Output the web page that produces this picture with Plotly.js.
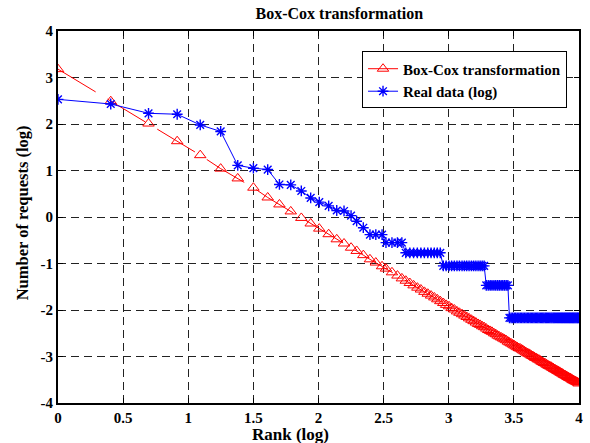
<!DOCTYPE html>
<html>
<head>
<meta charset="utf-8">
<script src="https://cdn.plot.ly/plotly-3.0.1.min.js"></script>
<style>html,body{margin:0;padding:0;background:#fff;}#chart{width:590px;height:443px;}</style>
</head>
<body>
<div id="chart"></div>
<script>
// log10(rank) sample positions
var rankLog = [0,0.405,0.695,0.915,1.092,1.249,1.38,1.50,1.61,1.70,
1.787,1.868,1.94,2.006,2.078,2.14,2.196,2.25,2.293,2.344,
2.395,2.44,2.488,2.518,2.564,2.606,2.64,2.670,2.701,2.730,
2.759,2.786,2.813,2.839,2.864,2.889,2.912,2.935,2.958,2.980,
3.002,3.022,3.043,3.063,3.082,3.102,3.120,3.138,3.156,3.174,
3.191,3.208,3.225,3.241,3.257,3.272,3.288,3.303,3.318,3.332,
3.347,3.361,3.375,3.388,3.402,3.415,3.428,3.441,3.454,3.466,
3.479,3.491,3.503,3.514,3.526,3.538,3.549,3.560,3.571,3.582,
3.593,3.604,3.614,3.625,3.635,3.645,3.655,3.665,3.675,3.684,
3.694,3.704,3.713,3.722,3.731,3.741,3.750,3.758,3.767,3.776,
3.785,3.793,3.802,3.810,3.818,3.827,3.835,3.843,3.851,3.859,
3.867,3.874,3.882,3.890,3.897,3.905,3.912,3.920,3.927,3.934,
3.942,3.949,3.956,3.963,3.970,3.977,3.984,3.990,3.997];

// Box-Cox transformation (log)
var boxCox = [3.18,2.49,2.01,1.63,1.33,1.04,0.83,0.63,0.42,0.27,
0.12,-0.02,-0.14,-0.25,-0.37,-0.48,-0.57,-0.66,-0.73,-0.82,
-0.91,-0.98,-1.06,-1.11,-1.19,-1.26,-1.32,-1.37,-1.42,-1.47,
-1.52,-1.56,-1.61,-1.65,-1.69,-1.73,-1.77,-1.81,-1.85,-1.89,
-1.92,-1.96,-1.99,-2.03,-2.06,-2.09,-2.12,-2.15,-2.18,-2.21,
-2.24,-2.27,-2.30,-2.32,-2.35,-2.37,-2.40,-2.43,-2.45,-2.47,
-2.50,-2.52,-2.55,-2.57,-2.59,-2.61,-2.63,-2.65,-2.68,-2.70,
-2.72,-2.74,-2.76,-2.78,-2.80,-2.82,-2.83,-2.85,-2.87,-2.89,
-2.91,-2.93,-2.94,-2.96,-2.98,-2.99,-3.01,-3.03,-3.04,-3.06,
-3.07,-3.09,-3.11,-3.12,-3.14,-3.15,-3.17,-3.18,-3.20,-3.21,
-3.22,-3.24,-3.25,-3.27,-3.28,-3.29,-3.31,-3.32,-3.33,-3.35,
-3.36,-3.37,-3.39,-3.40,-3.41,-3.42,-3.44,-3.45,-3.46,-3.47,
-3.48,-3.50,-3.51,-3.52,-3.53,-3.54,-3.55,-3.56,-3.58];

// Real data (log)
var realData = [2.53,2.43,2.23,2.21,1.98,1.84,1.11,1.05,1.02,0.70,
0.69,0.56,0.41,0.32,0.24,0.14,0.13,0.03,-0.09,-0.23,
-0.38,-0.38,-0.38,-0.55,-0.55,-0.55,-0.55,-0.77,-0.77,-0.77,
-0.77,-0.77,-0.77,-0.77,-0.77,-0.77,-0.77,-0.77,-1.05,-1.05,
-1.05,-1.05,-1.05,-1.05,-1.05,-1.05,-1.05,-1.05,-1.05,-1.05,
-1.05,-1.05,-1.05,-1.05,-1.05,-1.05,-1.47,-1.47,-1.47,-1.47,
-1.47,-1.47,-1.47,-1.47,-1.47,-1.47,-1.47,-1.47,-1.47,-2.17,
-2.17,-2.17,-2.17,-2.17,-2.17,-2.17,-2.17,-2.17,-2.17,-2.17,
-2.17,-2.17,-2.17,-2.17,-2.17,-2.17,-2.17,-2.17,-2.17,-2.17,
-2.17,-2.17,-2.17,-2.17,-2.17,-2.17,-2.17,-2.17,-2.17,-2.17,
-2.17,-2.17,-2.17,-2.17,-2.17,-2.17,-2.17,-2.17,-2.17,-2.17,
-2.17,-2.17,-2.17,-2.17,-2.17,-2.17,-2.17,-2.17,-2.17,-2.17,
-2.17,-2.17,-2.17,-2.17,-2.17,-2.17,-2.17,-2.17,-2.17];

var seriesNames = ['Box-Cox transformation', 'Real data (log)'];
var xTicks = [0,0.5,1,1.5,2,2.5,3,3.5,4];
var yTicks = [-4,-3,-2,-1,0,1,2,3,4];

var FONT = 'Liberation Serif, Times New Roman, serif';

var traces = [
  {
    x: rankLog, y: boxCox, name: seriesNames[0], type: 'scatter', mode: 'lines+markers',
    line: {color: '#ff0000', width: 1, dash: '44px,14px'},
    marker: {symbol: 'triangle-up-open', size: 10, color: '#ff0000', line: {width: 1, color: '#ff0000'}}
  },
  {
    x: rankLog, y: realData, name: seriesNames[1], type: 'scatter', mode: 'lines+markers',
    line: {color: '#0000ff', width: 1},
    marker: {symbol: 'asterisk-open', size: 9, color: '#0000ff', line: {width: 1.4, color: '#0000ff'}}
  }
];

var axisCommon = {
  showline: true, linecolor: '#000', linewidth: 2, mirror: 'ticks',
  ticks: 'inside', ticklen: 5, tickwidth: 1, tickcolor: '#000',
  showgrid: true, gridcolor: '#222', gridwidth: 1, griddash: '8px,5px',
  zeroline: false,
  tickfont: {family: FONT, size: 15, color: '#000', weight: 'bold'}
};

var layout = {
  width: 590, height: 443,
  margin: {l: 58, r: 11, t: 31, b: 40},
  paper_bgcolor: '#fff', plot_bgcolor: '#fff',
  title: {text: '<b>Box-Cox transformation</b>', x: 0.54, xref: 'paper', y: 0.97, yanchor: 'middle',
          font: {family: FONT, size: 16, color: '#000'}},
  xaxis: Object.assign({}, axisCommon, {
    range: [0, 4], tickvals: xTicks, ticktext: xTicks.map(String)
  }),
  yaxis: Object.assign({}, axisCommon, {
    range: [-4, 4], tickvals: yTicks, ticktext: yTicks.map(String)
  }),
  annotations: [
    {text: '<b>Rank (log)</b>', xref: 'paper', yref: 'paper', x: 0.447, y: -0.085,
     xanchor: 'center', yanchor: 'middle', showarrow: false,
     font: {family: FONT, size: 17, color: '#000'}},
    {text: '<b>Number of requests (log)</b>', xref: 'paper', yref: 'paper', x: -0.069, y: 0.51,
     xanchor: 'center', yanchor: 'middle', showarrow: false, textangle: -90,
     font: {family: FONT, size: 16.5, color: '#000'}}
  ],
  showlegend: true,
  legend: {
    x: 0.977, xanchor: 'right', y: 0.945, yanchor: 'top',
    bgcolor: '#fff', bordercolor: '#000', borderwidth: 1,
    font: {family: FONT, size: 15, color: '#000', weight: 'bold'},
    tracegroupgap: 0, itemwidth: 30
  }
};

Plotly.newPlot('chart', traces, layout, {displayModeBar: false, staticPlot: true});
</script>
</body>
</html>
